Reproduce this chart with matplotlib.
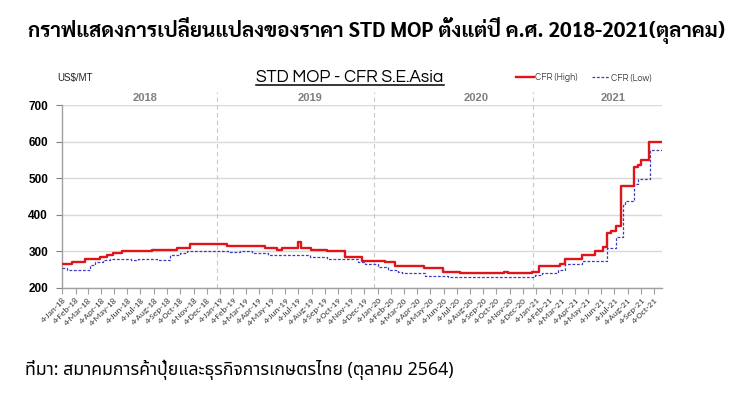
import matplotlib
matplotlib.use("Agg")
import matplotlib.pyplot as plt
import matplotlib.dates as mdates
import matplotlib.transforms as mtransforms
from matplotlib import font_manager as fm
import numpy as np
import pandas as pd

# ---------------- data ----------------
title_th = "กราฟแสดงการเปลี่ยนแปลงของราคา STD MOP ตั้งแต่ปี ค.ศ. 2018-2021(ตุลาคม)"
chart_title = "STD MOP - CFR S.E.Asia"
unit_label = "US$/MT"
source_th = "ที่มา: สมาคมการค้าปุ๋ยและธุรกิจการเกษตรไทย (ตุลาคม 2564)"
series_names = ["CFR (High)", "CFR (Low)"]
year_labels = ["2018", "2019", "2020", "2021"]

high_dates = ["2018-01-04", "2018-01-27", "2018-02-26", "2018-04-02", "2018-04-17",
              "2018-05-02", "2018-05-23", "2018-07-30", "2018-09-27", "2018-10-27",
              "2019-01-20", "2019-04-18", "2019-05-16", "2019-05-27", "2019-07-03",
              "2019-07-10", "2019-07-20", "2019-08-03", "2019-09-08", "2019-10-20",
              "2019-11-28", "2020-01-21", "2020-02-13", "2020-04-20", "2020-06-03",
              "2020-07-12", "2020-08-02", "2020-10-22", "2020-11-01", "2020-12-26",
              "2021-01-10", "2021-02-28", "2021-03-12", "2021-04-19", "2021-05-20",
              "2021-06-08", "2021-06-17", "2021-06-27", "2021-07-07", "2021-07-20",
              "2021-08-18", "2021-08-28", "2021-09-03", "2021-09-21", "2021-10-22"]
high_values = [265, 272, 280, 285, 290,
               295, 300, 305, 310, 320,
               315, 310, 305, 310, 325,
               310, 310, 305, 300, 285,
               275, 270, 260, 255, 245,
               242, 240, 245, 240, 245,
               260, 265, 280, 290, 300,
               313, 350, 356, 370, 480,
               530, 537, 550, 600, 600]

low_dates = ["2018-01-04", "2018-01-15", "2018-03-10", "2018-03-21", "2018-04-09",
             "2018-04-25", "2018-06-12", "2018-06-29", "2018-08-12", "2018-09-11",
             "2018-10-04", "2018-10-20", "2019-01-23", "2019-02-19", "2019-03-18",
             "2019-04-25", "2019-07-31", "2019-09-08", "2019-11-19", "2019-12-05",
             "2020-01-04", "2020-01-27", "2020-02-20", "2020-02-28", "2020-04-22",
             "2020-06-14", "2021-01-01", "2021-01-18", "2021-02-23", "2021-03-12",
             "2021-04-19", "2021-06-16", "2021-07-07", "2021-07-23", "2021-07-28",
             "2021-08-18", "2021-08-28", "2021-09-24", "2021-10-22"]
low_values = [255, 250, 262, 271, 277,
              280, 276, 280, 276, 290,
              295, 300, 297, 300, 295,
              290, 284, 279, 272, 265,
              257, 250, 244, 240, 232,
              230, 235, 240, 250, 265,
              275, 309, 339, 428, 437,
              484, 498, 578, 578]

# ---------------- style / layout ----------------
W, H, DPI = 755, 399, 100


def has_bold(name):
    for f in fm.fontManager.ttflist:
        if f.name == name and (f.weight in (600, 700, 800, "bold", "semibold", "heavy")):
            return True
    return False


bold_thai = "Noto Sans Thai"
for cand in ["Sarabun", "Noto Sans Thai", "IBM Plex Sans Thai", "Anuphan", "Bai Jamjuree"]:
    if has_bold(cand):
        bold_thai = cand
        break

thai = ["Noto Sans Thai", "DejaVu Sans"]
thai_bold = [bold_thai, "Noto Sans Thai", "DejaVu Sans"]
gothic = ["Questrial", "Didact Gothic", "Poppins", "DejaVu Sans"]

plt.rcParams["font.family"] = ["Noto Sans Thai", "DejaVu Sans"]

fig = plt.figure(figsize=(W / DPI, H / DPI), dpi=DPI)
fig.patch.set_facecolor("white")
L, R, T, B = 62, 662, 105, 288
ax = fig.add_axes([L / W, 1 - B / H, (R - L) / W, (B - T) / H])

hd = pd.to_datetime(high_dates)
ld = pd.to_datetime(low_dates)

ax.plot(hd, high_values, drawstyle="steps-post", color="#e0151b", lw=1.7,
        label=series_names[0], zorder=4)
ax.plot(ld, low_values, drawstyle="steps-post", color="#3b3bc8", lw=0.9,
        ls=(0, (2.2, 1.4)), label=series_names[1], zorder=3)

xmin = mdates.date2num(pd.Timestamp("2018-01-04")) - 0.3
xmax = mdates.date2num(pd.Timestamp("2021-10-22"))
ax.set_xlim(xmin, xmax)
ax.set_ylim(200, 700)

# y axis
ax.set_yticks(np.arange(200, 701, 100))
ax.yaxis.grid(True, color="#d9d9d9", lw=1)
ax.set_axisbelow(True)
ax.tick_params(axis="y", length=4, width=0.8, color="#808080", labelsize=8.5,
               pad=6, labelcolor="black")
for lbl in ax.get_yticklabels():
    lbl.set_fontweight("bold")
    lbl.set_family(["Liberation Sans", "DejaVu Sans"])

# x axis monthly ticks on the 4th
ticks = pd.date_range("2018-01-01", "2021-10-01", freq="MS") + pd.Timedelta(days=3)
ax.set_xticks(mdates.date2num(ticks))
ax.set_xticklabels([f"{t.day}-{t.strftime('%b-%y')}" for t in ticks],
                   rotation=45, ha="right", rotation_mode="anchor",
                   fontsize=6.7, color="#3a3a3a",
                   family=["Carlito", "Liberation Sans", "DejaVu Sans"])
ax.tick_params(axis="x", length=4, width=0.8, color="#a0a0a0", pad=2)

for s in ["top", "right"]:
    ax.spines[s].set_visible(False)
for s in ["left", "bottom"]:
    ax.spines[s].set_color("#a0a0a0")
    ax.spines[s].set_linewidth(1)

# year separators and year labels
sep_dates = pd.to_datetime(["2018-12-27", "2019-12-27", "2020-12-27"])
for d in sep_dates:
    ax.axvline(d, ymin=0, ymax=1.07, color="#c8c8c8", lw=0.8, ls=(0, (4, 3)),
               clip_on=False, zorder=1)
year_pos = pd.to_datetime(["2018-07-15", "2019-08-01", "2020-08-19", "2021-07-01"])
trans = mtransforms.blended_transform_factory(ax.transData, ax.transAxes)
for p, y in zip(year_pos, year_labels):
    ax.text(p, 1.04, y, transform=trans, ha="center", va="center",
            fontsize=8, fontweight="bold", color="#7f7f7f",
            family=["Liberation Sans", "DejaVu Sans"])

# chart title (underlined)
t = fig.text(350 / W, 1 - 78 / H, chart_title, ha="center", va="center",
             fontsize=12.5, family=gothic, color="black")

# unit label
fig.text(57 / W, 1 - 78 / H, unit_label, ha="left", va="center", fontsize=7,
         family=["Liberation Sans", "DejaVu Sans"], color="#222222")

# legend
leg = ax.legend(loc="center right", bbox_to_anchor=(656 / W, 1 - 78 / H),
                bbox_transform=fig.transFigure, ncol=2, frameon=False,
                handlelength=2.0, handletextpad=0.1,
                columnspacing=1.6, borderpad=0, prop={"family": gothic, "size": 6.5})
for txt in leg.get_texts():
    txt.set_color("#404040")

# main Thai title
tt = fig.text(377 / W, 1 - 31 / H, title_th, ha="center", va="center",
              fontsize=15.5, fontweight="bold", family=thai_bold, color="black")

# source
st = fig.text(25 / W, 1 - 370 / H, source_th, ha="left", va="center",
              fontsize=12.5, family=thai, color="black")

# fit text widths to the reference
fig.canvas.draw()
r = fig.canvas.get_renderer()
w = tt.get_window_extent(r).width
tt.set_fontsize(15.5 * 699 / w)
w = st.get_window_extent(r).width
st.set_fontsize(12.5 * 430 / w)
fig.canvas.draw()
bb = t.get_window_extent(r)
fig.add_artist(plt.Line2D([bb.x0 / W, bb.x1 / W], [(bb.y0 + 1) / H, (bb.y0 + 1) / H],
                          color="black", lw=1.1, transform=fig.transFigure))

fig.savefig("out.png", dpi=DPI)
